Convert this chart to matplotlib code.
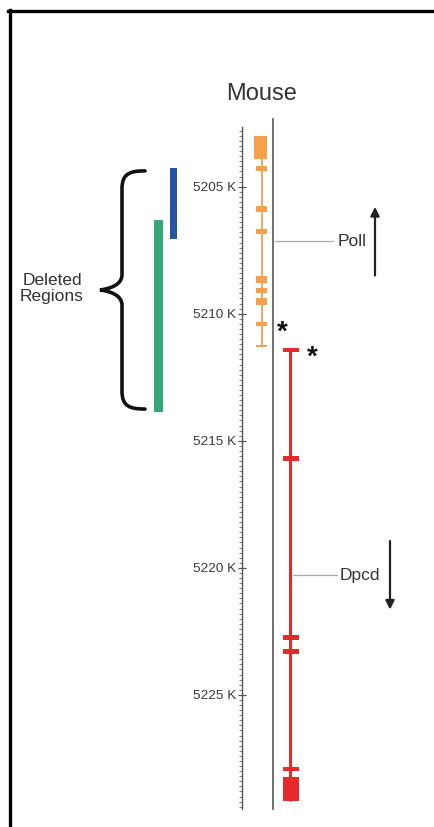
import matplotlib.pyplot as plt
import numpy as np
from matplotlib.path import Path
from matplotlib.patches import PathPatch
from matplotlib.lines import Line2D
from matplotlib.ticker import MultipleLocator, FuncFormatter

plt.rcParams['font.family'] = ['Liberation Sans', 'DejaVu Sans']

# genomic positions in kb
poll_span = (5203.02, 5211.27)
poll_exons = [(5203.02, 5203.91), (5204.20, 5204.40), (5205.78, 5205.98),
              (5206.68, 5206.88), (5208.50, 5208.80), (5209.00, 5209.20),
              (5209.38, 5209.64), (5210.32, 5210.50), (5211.22, 5211.30)]
dpcd_span = (5211.40, 5229.19)
dpcd_exons = [(5211.34, 5211.52), (5215.60, 5215.78), (5222.64, 5222.84),
              (5223.18, 5223.38), (5227.82, 5227.98), (5228.24, 5229.19)]
deleted = [(5204.28, 5207.04), (5206.33, 5213.85)]
stars = [5210.45, 5211.43]
view = (5202.64, 5229.49)
major_step = 5
minor_step = 0.2

W, H = 434, 827
fig = plt.figure(figsize=(W / 100, H / 100), dpi=100)

# axis placed in pixel terms; x data units are pixels
ax_l, ax_top, ax_bot = 242, 126.7, 809
ax = fig.add_axes([ax_l / W, 1 - ax_bot / H, (W - ax_l) / W, (ax_bot - ax_top) / H])
ax.set_xlim(ax_l, W)
ax.set_ylim(view[1], view[0])
for s in ['top', 'right', 'bottom']:
    ax.spines[s].set_visible(False)
ax.spines['left'].set_color('#555555')
ax.spines['left'].set_linewidth(1.0)
ax.set_xticks([])
ax.yaxis.set_major_locator(MultipleLocator(major_step))
ax.yaxis.set_minor_locator(MultipleLocator(minor_step))
ax.yaxis.set_major_formatter(FuncFormatter(lambda v, p: f'{v:.0f} K'))
ax.tick_params(axis='y', which='major', direction='inout', length=6, width=0.9,
               colors='#555555', labelsize=9.7, labelcolor='#3a3a3a', pad=1)
ax.tick_params(axis='y', which='minor', direction='out', length=2.5, width=0.6,
               colors='#666666')

# chromosome line
ax.plot([272.5, 272.5], [5202.33, view[1]], color='#555555', lw=1.2, clip_on=False)

# Poll (orange)
orange = '#f6a04c'
ax.plot([261.5, 261.5], poll_span, color=orange, lw=1.3, solid_capstyle='butt')
for i, (a, b) in enumerate(poll_exons):
    w = 13 if i == 0 else 11
    ax.bar(261.5 if i else 260.5, b - a, bottom=a, width=w, color=orange, lw=0)

# Dpcd (red)
red = '#e52a2a'
ax.plot([290, 290], dpcd_span, color=red, lw=2.2, solid_capstyle='butt')
for a, b in dpcd_exons:
    ax.bar(290.5, b - a, bottom=a, width=16, color=red, lw=0)

# gene labels at gene midpoints
poll_mid = sum(poll_span) / 2
dpcd_mid = sum(dpcd_span) / 2
ax.plot([275, 333], [poll_mid, poll_mid], color='#aaaaaa', lw=0.9)
ax.text(338, poll_mid, 'Poll', fontsize=12.5, color='#333333', va='center', ha='left')
ax.plot([293, 337], [dpcd_mid, dpcd_mid], color='#aaaaaa', lw=0.9)
ax.text(340, dpcd_mid, 'Dpcd', fontsize=12.5, color='#333333', va='center', ha='left')

# transcription direction arrows
alen = 2.7
ax.annotate('', xy=(375, poll_mid - alen / 2), xytext=(375, poll_mid + alen / 2),
            arrowprops=dict(arrowstyle='-|>', color='#222222', lw=1.6,
                            mutation_scale=13, shrinkA=0, shrinkB=0))
ax.annotate('', xy=(390, dpcd_mid + alen / 2), xytext=(390, dpcd_mid - alen / 2),
            arrowprops=dict(arrowstyle='-|>', color='#222222', lw=1.6,
                            mutation_scale=13, shrinkA=0, shrinkB=0))

# asterisks
for x, y in zip([282, 312], stars):
    ax.text(x, y + 0.3, '*', fontsize=20, fontweight='bold', color='#111111',
            ha='center', va='center')

# deleted regions
ax.bar(173.5, deleted[0][1] - deleted[0][0], bottom=deleted[0][0], width=7,
       color='#2754a8', lw=0, clip_on=False)
ax.bar(158.5, deleted[1][1] - deleted[1][0], bottom=deleted[1][0], width=9,
       color='#35a87a', lw=0, clip_on=False)

# curly brace spanning the deleted regions
y0 = min(a for a, b in deleted) + 0.1
y1 = max(b for a, b in deleted) - 0.1
ym = (y0 + y1) / 2
xe, xs, xt = 145, 122, 100
verts = [(xe, y0), (130, y0), (xs, y0 + 0.1), (xs, y0 + 0.7),
         (xs, ym - 0.6),
         (xs, ym - 0.2), (110, ym - 0.05), (xt, ym),
         (110, ym + 0.05), (xs, ym + 0.2), (xs, ym + 0.6),
         (xs, y1 - 0.7),
         (xs, y1 - 0.1), (130, y1), (xe, y1)]
codes = [Path.MOVETO, Path.CURVE4, Path.CURVE4, Path.CURVE4,
         Path.LINETO,
         Path.CURVE4, Path.CURVE4, Path.CURVE4,
         Path.CURVE4, Path.CURVE4, Path.CURVE4,
         Path.LINETO,
         Path.CURVE4, Path.CURVE4, Path.CURVE4]
ax.add_patch(PathPatch(Path(verts, codes), fill=False, lw=2.6, color='#111111',
                       clip_on=False, capstyle='round'))
ax.text(52, ym - 0.05, 'Deleted\nRegions', fontsize=12.5, color='#333333',
        ha='center', va='center', linespacing=1.1)

# title
fig.text(262 / W, 1 - 94 / H, 'Mouse', fontsize=17, color='#333333',
         ha='center', va='center')

# frame (top and left edges)
fig.add_artist(Line2D([8 / W, 1], [1 - 11.3 / H] * 2, color='black', lw=2.4,
                      transform=fig.transFigure))
fig.add_artist(Line2D([10 / W] * 2, [1 - 10 / H, 0], color='black', lw=2.4,
                      transform=fig.transFigure))

fig.savefig('out.png', dpi=100)
